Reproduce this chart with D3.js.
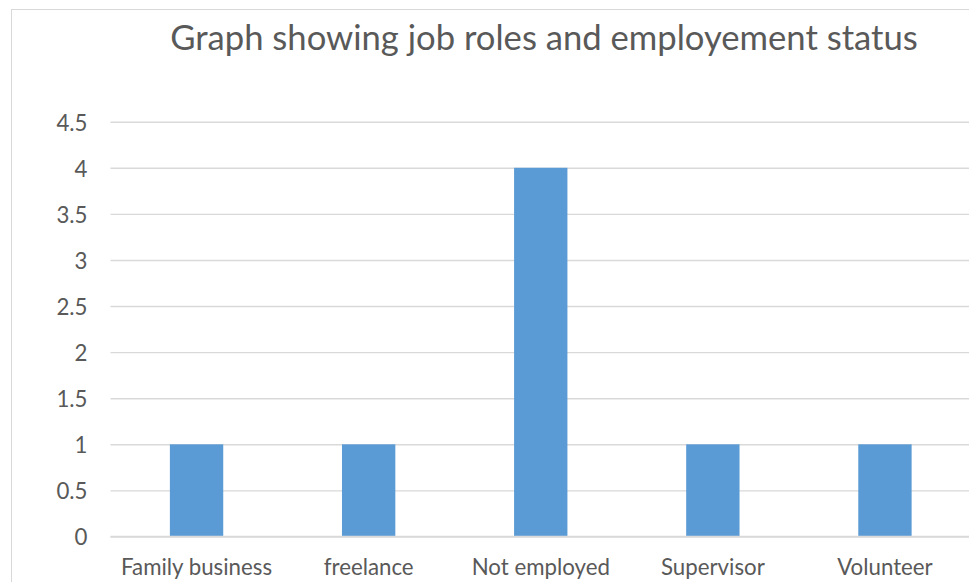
<!DOCTYPE html>
<html>
<head>
<meta charset="utf-8">
<script src="https://cdn.jsdelivr.net/npm/d3@7/dist/d3.min.js"></script>
<style>
  html, body { margin: 0; padding: 0; background: #fff; }
  svg { display: block; }
  text { font-family: "Lato", "Open Sans", sans-serif; fill: #595959; }
</style>
</head>
<body>
<svg id="chart" width="969" height="582"></svg>
<script>
const titleText = "Graph showing job roles and employement status";
const categories = ["Family business", "freelance", "Not employed", "Supervisor", "Volunteer"];
const counts = [1, 1, 4, 1, 1];
const yTicks = [0, 0.5, 1, 1.5, 2, 2.5, 3, 3.5, 4, 4.5];

const svg = d3.select("#chart");
const W = 969, H = 582;

// chart frame
svg.append("rect")
  .attr("x", 11.5).attr("y", 9.5)
  .attr("width", 980).attr("height", 600)
  .attr("fill", "#fff").attr("stroke", "#D9D9D9").attr("stroke-width", 1);

const plot = { left: 110.5, right: 971, top: 121.7, bottom: 536.5 };

const x = d3.scaleBand()
  .domain(categories)
  .range([plot.left, plot.right])
  .paddingInner(0.69)
  .paddingOuter(0.345);

const y = d3.scaleLinear()
  .domain([0, 4.5])
  .range([plot.bottom, plot.top]);

function fitWidth(sel, target) {
  const node = sel.node();
  const fs = parseFloat(sel.attr("font-size"));
  const w = node.getComputedTextLength();
  if (w > 0) sel.attr("font-size", (fs * target / w).toFixed(2));
}

// gridlines
const gAxisY = svg.append("g")
  .attr("transform", `translate(${plot.left},0)`)
  .call(d3.axisLeft(y).tickValues(yTicks).tickSize(-(plot.right - plot.left)).tickPadding(23)
    .tickFormat(d => String(d)));
gAxisY.select(".domain").remove();
gAxisY.selectAll(".tick line").attr("stroke", "#D9D9D9").attr("stroke-width", 1.4);
gAxisY.selectAll(".tick text")
  .attr("font-size", 19)
  .attr("fill", "#595959")
  .attr("font-family", "Lato, 'Open Sans', sans-serif")
  .attr("dy", "0.38em");

// bars
svg.append("g").selectAll("rect")
  .data(categories)
  .join("rect")
  .attr("x", d => x(d))
  .attr("width", x.bandwidth())
  .attr("y", (d, i) => y(counts[i]))
  .attr("height", (d, i) => y(0) - y(counts[i]))
  .attr("fill", "#5B9BD5");

// redraw zero line on top of bars
svg.append("line")
  .attr("x1", plot.left).attr("x2", plot.right)
  .attr("y1", y(0)).attr("y2", y(0))
  .attr("stroke", "#D9D9D9").attr("stroke-width", 1.4);

// x labels
const gAxisX = svg.append("g")
  .attr("transform", `translate(0,${plot.bottom})`)
  .call(d3.axisBottom(x).tickSize(0).tickPadding(0));
gAxisX.select(".domain").remove();
gAxisX.selectAll(".tick text")
  .attr("font-size", 19)
  .attr("fill", "#595959")
  .attr("font-family", "Lato, 'Open Sans', sans-serif")
  .attr("dy", null)
  .attr("y", 38.5);

const sampleX = gAxisX.select(".tick text");
fitWidth(sampleX, 151);
const xfs = sampleX.attr("font-size");
gAxisX.selectAll(".tick text").attr("font-size", xfs);
gAxisY.selectAll(".tick text").attr("font-size", xfs);

// title
const title = svg.append("text")
  .attr("x", 544)
  .attr("y", 50)
  .attr("text-anchor", "middle")
  .attr("font-size", 30)
  .text(titleText);
fitWidth(title, 748);
</script>
</body>
</html>
